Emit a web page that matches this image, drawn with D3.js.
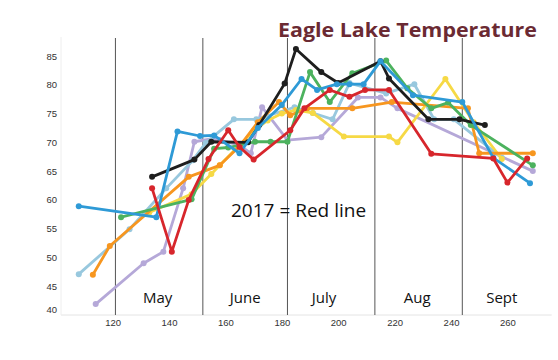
<!DOCTYPE html>
<html><head><meta charset="utf-8">
<script src="https://cdn.jsdelivr.net/npm/d3@7"></script>
<style>body{margin:0;background:#fff}</style>
</head><body><svg id="c" width="558" height="360"></svg>
<script>
const yTicks = [40,45,50,55,60,65,70,75,80,85];
const xTicks = [120,140,160,180,200,220,240,260];
const monthStarts = [121,152,182,213,244];
const monthLabels = ["May","June","July","Aug","Sept"];
const monthLabelDays = [136,167,195,228,258];

const purple = [[114,41.9],[131,49],[138,51],[145,62],[149,70.1],[156,70.7],[158,70.4],[165,69.5],[169,68.1],[173,76.1],[182,70.4],[194,70.9],[207,77.8],[215,77.8],[221,75.9],[269,65]];
const lightBlue = [[108,47.1],[126,54.9],[139,62],[148.5,66.9],[153,69.9],[163,74],[171,74],[184.5,76.1],[191,75.1],[198,74],[204,80.3],[217,78.5],[227,80.1],[234,74],[241,74],[258,67.3]];
const yellow = [[133,57.8],[148,61],[155,64.5],[158,66],[170,72],[175,73.8],[180,75],[185,75.6],[191,75.1],[202,71],[218,71],[221,70],[238,81],[248,73.5],[258,67.1]];
const orange = [[113,47],[119,52],[147,64],[158,66],[165,69.3],[171.5,73.5],[179,77],[183,74.7],[189,75.9],[205,75.9],[219,77],[246,75.9],[250,68.1],[269,68.1]];
const green = [[123,57],[148,60.1],[156,68.9],[161,69.1],[170.5,70.1],[176,70.1],[182,70.1],[190,82.2],[197,77],[205,82],[217,84.2],[224.5,79.4],[233,75.9],[239,76.9],[247,73],[269,66]];
const black = [[134,64],[149,67],[155,70.1],[168,70],[172,73],[181,80.2],[185,86.2],[194,82.2],[200,80.3],[215,84.1],[218,81.1],[232,74],[243,74],[252,73]];
const blue = [[108,58.9],[135.5,57],[143,71.9],[151,71.1],[156,71.2],[165,68.1],[171.5,72.5],[180,76.5],[187,81],[192.5,79.1],[199.5,80.1],[204,80.1],[209,80.1],[215,84.1],[226.5,78.2],[244,77],[255,67.3],[268,62.9]];
const red = [[134,62],[141,51],[147,60],[154,67.1],[161,72.1],[165,69.2],[170,67],[183,72.1],[188,75.9],[197,79.1],[204,77.9],[209.5,79.1],[218,79.1],[233,68],[255,67.2],[260,63],[267,67.2]];

const seriesList = [
  {data: purple, color: "#b5a8d8"},
  {data: lightBlue, color: "#98c8de"},
  {data: yellow, color: "#f6d945"},
  {data: orange, color: "#f7961f"},
  {data: green, color: "#4cb25e"},
  {data: black, color: "#1e1e1e"},
  {data: blue, color: "#2e9ad6"},
  {data: red, color: "#d7262c"}
];

const svg = d3.select("#c");
const x = d3.scaleLinear().domain([101.7, 275.7]).range([61, 551.7]);
const y = d3.scaleLinear().domain([40, 88.3]).range([315, 37]);

// axes lines
svg.append("line").attr("x1",61).attr("x2",551.7).attr("y1",315).attr("y2",315).attr("stroke","#e4e4e4").attr("stroke-width",1);
svg.append("line").attr("x1",61).attr("x2",61).attr("y1",37).attr("y2",315).attr("stroke","#eeeeee").attr("stroke-width",1);

const yAxis = d3.axisLeft(y).tickValues(yTicks).tickSize(0).tickPadding(4);
const gy = svg.append("g").attr("transform","translate(57,0)").call(yAxis);
gy.select(".domain").remove();
gy.selectAll("text").attr("font-family","Liberation Sans, Arial, sans-serif").attr("font-size",9.5).attr("fill","#333")
  .attr("dx", 4)
  .attr("dy", d => d === 40 ? "-0.3em" : "0.32em");

const xAxis = d3.axisBottom(x).tickValues(xTicks).tickSize(0).tickPadding(4);
const gx = svg.append("g").attr("transform","translate(0,315)").call(xAxis);
gx.select(".domain").remove();
gx.selectAll("text").attr("font-family","Liberation Sans, Arial, sans-serif").attr("font-size",9.5).attr("fill","#333");

// month lines
svg.selectAll("line.month").data(monthStarts).enter().append("line")
  .attr("class","month")
  .attr("x1",d=>x(d)).attr("x2",d=>x(d)).attr("y1",38).attr("y2",315)
  .attr("stroke","#555").attr("stroke-width",1);

svg.selectAll("text.mlab").data(monthLabels).enter().append("text")
  .attr("class","mlab")
  .attr("x",(d,i)=>x(monthLabelDays[i])).attr("y",303)
  .attr("text-anchor","middle")
  .attr("font-family","Open Sans, sans-serif").attr("font-size",15).attr("fill","#111")
  .text(d=>d);

const line = d3.line().x(d=>x(d[0])).y(d=>y(d[1]));
seriesList.forEach(s => {
  const g = svg.append("g");
  g.append("path").attr("d", line(s.data)).attr("fill","none")
    .attr("stroke", s.color).attr("stroke-width", 2.8).attr("stroke-linejoin","round");
  g.selectAll("circle").data(s.data).enter().append("circle")
    .attr("cx",d=>x(d[0])).attr("cy",d=>y(d[1])).attr("r",3).attr("fill",s.color);
});

svg.append("text").attr("x",231).attr("y",217)
  .attr("font-family","Open Sans, sans-serif").attr("font-size",19).attr("fill","#111")
  .text("2017 = Red line");

svg.append("text").attr("x",278).attr("y",37)
  .attr("font-family","Open Sans, sans-serif").attr("font-weight","bold").attr("font-size",20)
  .attr("fill","#6b2a33").attr("textLength",259).attr("lengthAdjust","spacingAndGlyphs")
  .text("Eagle Lake Temperature");
</script></body></html>
